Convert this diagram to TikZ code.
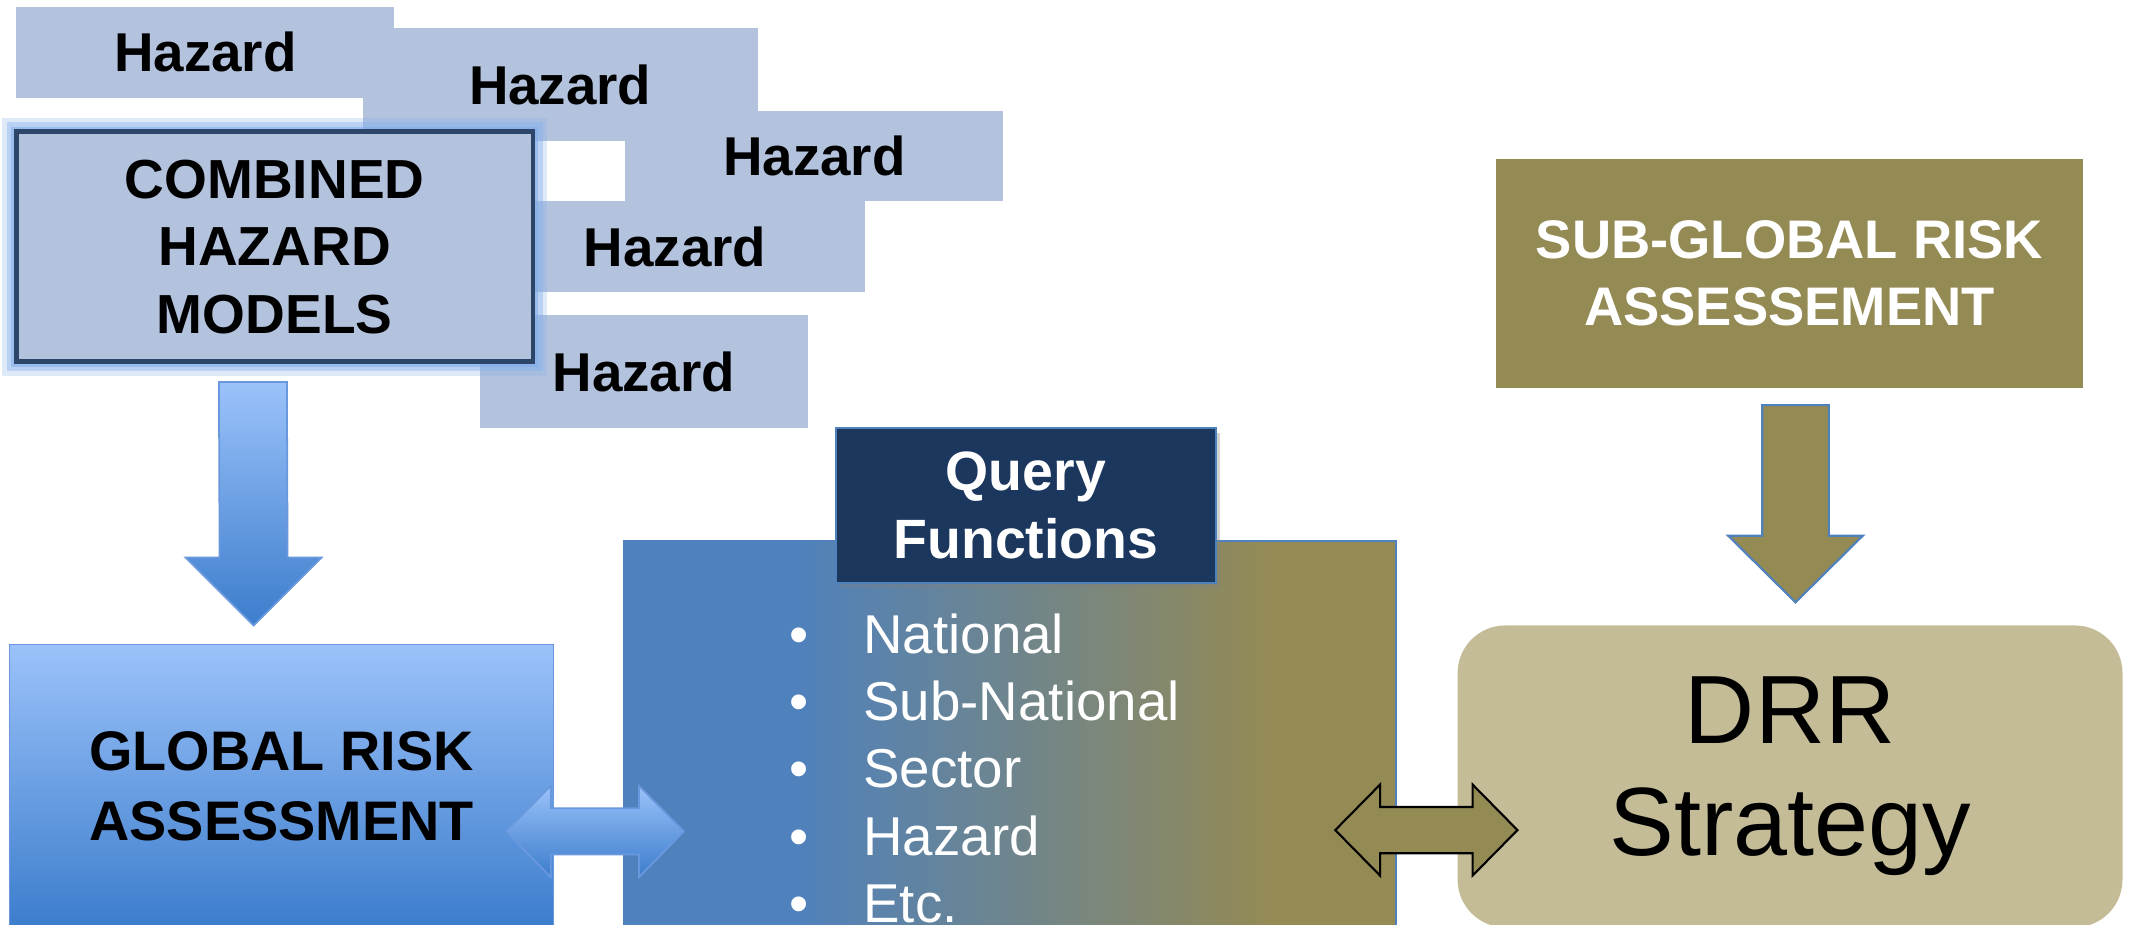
\documentclass[tikz,border=0pt]{standalone}
\usepackage{fontspec}
\setmainfont{Liberation Sans}
\usetikzlibrary{calc,shadows}
\definecolor{hzfill}{RGB}{179,194,221}
\definecolor{cbline}{RGB}{44,69,104}
\definecolor{glow}{RGB}{130,175,235}
\definecolor{gltop}{RGB}{155,194,250}
\definecolor{glbot}{RGB}{60,125,204}
\definecolor{glline}{RGB}{105,152,222}
\definecolor{qblue}{RGB}{79,129,189}
\definecolor{qolive}{RGB}{148,138,84}
\definecolor{qnavy}{RGB}{27,55,94}
\definecolor{drrfill}{RGB}{196,188,150}
\newcommand{\pxu}{0.3853pt}
\pgfdeclarehorizontalshading{qfade}{100bp}{color(0bp)=(qblue); color(36bp)=(qblue); color(67bp)=(qolive); color(100bp)=(qolive)}
% block arrow pointing down: top, tip, shaft half, head half, head length
\newcommand{\downblock}[5]{($(#1)+(-#3,0)$) -- ($(#2)+(-#3,-#5)$) -- ($(#2)+(-#4,-#5)$) -- (#2)
  -- ($(#2)+(#4,-#5)$) -- ($(#2)+(#3,-#5)$) -- ($(#1)+(#3,0)$) -- cycle}
% block arrow with two heads: left tip, right tip, shaft half, head half, head length
\newcommand{\twoblock}[5]{(#1) -- ($(#1)+(#5,-#4)$) -- ($(#1)+(#5,-#3)$) -- ($(#2)+(-#5,-#3)$) -- ($(#2)+(-#5,-#4)$)
  -- (#2) -- ($(#2)+(-#5,#4)$) -- ($(#2)+(-#5,#3)$) -- ($(#1)+(#5,#3)$) -- ($(#1)+(#5,#4)$) -- cycle}
\newcommand{\qitem}[1]{\makebox[21pt][l]{\textbullet}#1}
\tikzset{
    HZ/.style ={rectangle, fill=hzfill, inner sep=0pt, font=\bfseries\fontsize{15.5}{19}\selectfont},
    CB/.style ={rectangle, fill=hzfill, draw=cbline, line width=1.4pt, inner sep=0pt, align=center,
        font=\bfseries\fontsize{15.6}{19.1}\selectfont,
        preaction={draw=glow, line width=8pt, opacity=.25},
        preaction={draw=glow, line width=5.5pt, opacity=.4},
        preaction={draw=glow, line width=3pt, opacity=.6}},
    GR/.style ={rectangle, top color=gltop, bottom color=glbot, draw=glline, line width=.5pt, inner sep=0pt,
        align=center, font=\bfseries\fontsize{15.8}{19.8}\selectfont},
    QB/.style ={rectangle, shade, shading=qfade, draw=qblue, line width=.6pt, inner sep=0pt},
    QF/.style ={rectangle, fill=qnavy, draw=qblue, line width=.6pt, inner sep=0pt, text=white, align=center,
        font=\bfseries\fontsize{15.7}{19.3}\selectfont,
        drop shadow={shadow xshift=1.2pt, shadow yshift=-1.2pt, opacity=.35}},
    QL/.style ={inner sep=0pt, align=left, text=white, font=\fontsize{15.5}{19.1}\selectfont},
    SG/.style ={rectangle, fill=qolive, inner sep=0pt, text=white, align=center,
        font=\bfseries\fontsize{15.4}{18.9}\selectfont},
    DR/.style ={rectangle, rounded corners=13.5pt, fill=drrfill, inner sep=0pt, align=center,
        font=\fontsize{27.5}{31.8}\selectfont},
    BA/.style ={top color=gltop, bottom color=glbot, draw=glline, line width=.5pt},
    OA/.style ={fill=qolive, draw=qblue, line width=.6pt},
    OD/.style ={fill=qolive, draw=black, line width=.6pt}}

\begin{document}
\begin{tikzpicture}[x=0.3853pt,y=-0.3853pt]
        \clip (0,0) rectangle (1568,680);
        \fill[white] (0,0) rectangle (1568,680);
        % hazards
        \node[HZ, minimum width=278*\pxu, minimum height=67*\pxu] (h1) at (151,38.5){Hazard};
        \node[HZ, minimum width=290.5*\pxu, minimum height=83.4*\pxu] (h2) at (412,62.3){Hazard};
        \node[HZ, minimum width=278*\pxu, minimum height=66*\pxu] (h3) at (599,115){Hazard};
        \node[HZ, minimum width=279*\pxu, minimum height=67*\pxu] (h4) at (496.5,181.5){Hazard};
        \node[HZ, minimum width=241*\pxu, minimum height=83*\pxu] (h5) at (473.5,273.5){Hazard};
        \node[CB, minimum width=380*\pxu, minimum height=169*\pxu] (comb) at (202,181.5){COMBINED\\HAZARD\\MODELS};
        % left column
        \node[GR, minimum width=400*\pxu, minimum height=208*\pxu] (glob) at (207,578){GLOBAL RISK\\ASSESSMENT};
        \coordinate (a1s) at (186,281);
        \coordinate (a1t) at (186.5,460);
        \draw[BA] \downblock{a1s}{a1t}{25}{50}{50};
        % query
        \node[QB, minimum width=568*\pxu, minimum height=302*\pxu] (qbox) at (743,549){};
        \node[QF, minimum width=279*\pxu, minimum height=114*\pxu] (query) at (754.5,372){Query\\Functions};
        \node[QL, anchor=north west] (qlist) at (580,450.7)
            {\qitem{National}\\\qitem{Sub-National}\\\qitem{Sector}\\\qitem{Hazard}\\\qitem{Etc.}};
        \coordinate (a2l) at (372,611.5);
        \coordinate (a2r) at (503,611.5);
        \draw[BA] \twoblock{a2l}{a2r}{17}{33.5}{33};
        % right column
        \node[SG, minimum width=432*\pxu, minimum height=168*\pxu] (sub) at (1316,201){SUB-GLOBAL RISK\\ASSESSEMENT};
        \node[DR, minimum width=489*\pxu, minimum height=222*\pxu] (drr) at (1316.5,571){DRR\\Strategy};
        \coordinate (a3s) at (1320.5,298);
        \coordinate (a3t) at (1320.5,443);
        \draw[OA] \downblock{a3s}{a3t}{24.5}{49.5}{49};
        \coordinate (a4l) at (982,610.5);
        \coordinate (a4r) at (1116,610.5);
        \draw[OD] \twoblock{a4l}{a4r}{17}{33.5}{33};
\end{tikzpicture}
\end{document}
